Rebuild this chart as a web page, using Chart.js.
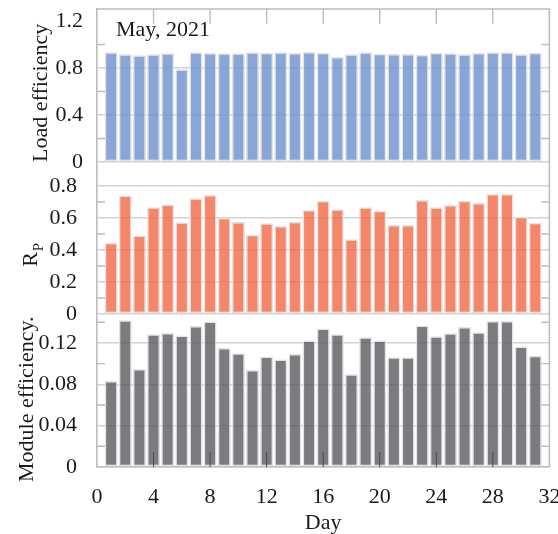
<!DOCTYPE html>
<html>
<head>
<meta charset="utf-8">
<script src="https://cdn.jsdelivr.net/npm/chart.js@4.4.0/dist/chart.umd.min.js"></script>
<style>html,body{margin:0;padding:0;background:#fff;}canvas{display:block;}</style>
</head>
<body>
<canvas id="c" width="558" height="534"></canvas>
<script>
const days = [1,2,3,4,5,6,7,8,9,10,11,12,13,14,15,16,17,18,19,20,21,22,23,24,25,26,27,28,29,30,31];
const loadEfficiency = [0.933,0.916,0.908,0.916,0.925,0.790,0.933,0.928,0.925,0.925,0.933,0.930,0.933,0.928,0.936,0.930,0.894,0.916,0.933,0.922,0.919,0.919,0.913,0.930,0.925,0.916,0.928,0.933,0.933,0.916,0.930];
const rpValues = [0.446,0.740,0.490,0.667,0.685,0.573,0.723,0.744,0.602,0.575,0.496,0.567,0.550,0.577,0.650,0.708,0.654,0.467,0.667,0.646,0.556,0.556,0.712,0.667,0.681,0.708,0.694,0.750,0.750,0.608,0.571];
const moduleEfficiency = [0.0833,0.142,0.0949,0.1284,0.1297,0.1271,0.1365,0.1407,0.1152,0.110,0.0939,0.107,0.104,0.1094,0.1223,0.1339,0.1284,0.0897,0.1255,0.1223,0.1061,0.1061,0.1368,0.1265,0.1294,0.1355,0.1304,0.1413,0.1413,0.1165,0.1075];
const xTicks = [0,4,8,12,16,20,24,28,32];
const loadTicks = [0,0.4,0.8,1.2];
const rpTicks = [0,0.2,0.4,0.6,0.8];
const moduleTicks = [0,0.04,0.08,0.12];
const loadMinor = [0.2,0.6,1.0];
const rpMinor = [0.1,0.3,0.5,0.7];
const moduleMinor = [0.02,0.06,0.10,0.14];
const xInnerTicks = [4,8,12,16,20,24,28];

const FONT = "'Liberation Serif','Times New Roman',serif";
const AXIS = '#bdbdbd';
const GRID = '#d2d2d2';
const TXT = '#1a1a1a';

function yScale(tickVals, min, max, weight, stackWeight, pad, noGrid) {
  return {
    type: 'linear', position: 'left', stack: 'panels', stackWeight: stackWeight, weight: weight,
    min: min, max: max,
    afterBuildTicks: s => { s.ticks = tickVals.map(v => ({value: v})); },
    afterFit: s => { s.width = 97; s.paddingTop = 0; s.paddingBottom = 0; },
    ticks: { padding: pad, color: TXT, font: {family: FONT, size: 22}, autoSkip: false, callback: v => String(v) },
    grid: { drawTicks: false, lineWidth: 1.4,
      color: ctx => (noGrid.indexOf(ctx.tick && ctx.tick.value) >= 0 ? 'rgba(0,0,0,0)' : GRID) },
    border: { display: true, color: AXIS, width: 1.6 }
  };
}

const decor = {
  id: 'decor',
  beforeDraw(chart) {
    const c = chart.ctx;
    c.save(); c.fillStyle = '#fff'; c.fillRect(0, 0, chart.width, chart.height); c.restore();
  },
  afterDatasetsDraw(chart) {
    const c = chart.ctx, a = chart.chartArea, s = chart.scales;
    c.save();
    c.strokeStyle = AXIS; c.lineWidth = 1.6;
    c.beginPath();
    c.moveTo(a.left, a.top); c.lineTo(a.right, a.top); c.lineTo(a.right, a.bottom);
    c.stroke();
    const minor = [[s.yLoad, loadMinor], [s.yRp, rpMinor], [s.yMod, moduleMinor]];
    c.lineWidth = 1.4;
    for (const [sc, vals] of minor) {
      for (const v of vals) {
        const y = sc.getPixelForValue(v);
        c.beginPath();
        c.moveTo(a.left, y); c.lineTo(a.left + 8, y);
        c.moveTo(a.right, y); c.lineTo(a.right - 8, y);
        c.stroke();
      }
    }
    for (const v of xInnerTicks) {
      const x = s.x.getPixelForValue(v);
      c.strokeStyle = AXIS; c.lineWidth = 1.4;
      c.beginPath(); c.moveTo(x, a.top); c.lineTo(x, a.top + 15); c.stroke();
      c.strokeStyle = '#4a4a4a'; c.lineWidth = 1;
      c.beginPath(); c.moveTo(x, a.bottom); c.lineTo(x, a.bottom - 15); c.stroke();
    }
    c.restore();
  },
  afterDraw(chart) {
    const c = chart.ctx, s = chart.scales, a = chart.chartArea;
    c.save();
    c.fillStyle = TXT;
    c.textBaseline = 'alphabetic';
    c.font = '22px ' + FONT;
    c.textAlign = 'left';
    c.fillText('May, 2021', a.left + 19, a.top + 27);
    const rot = (txt, x, y, size) => {
      c.save(); c.translate(x, y); c.rotate(-Math.PI / 2);
      c.font = size + 'px ' + FONT; c.textAlign = 'left'; c.fillText(txt, 0, 0); c.restore();
    };
    rot('Load efficiency', 47, s.yLoad.getPixelForValue(0), 22);
    const r0 = s.yRp.getPixelForValue(0.295);
    rot('R', 37, r0, 22);
    c.font = '22px ' + FONT;
    const rw = c.measureText('R').width;
    rot('P', 43, r0 - rw - 1, 15);
    rot('Module efficiency.', 33, s.yMod.getPixelForValue(0) + 15, 22);
    c.restore();
  }
};

const barCommon = { grouped: false, barPercentage: 0.92, categoryPercentage: 1.0, borderWidth: 1.5, borderColor: '#e3e3e3', borderSkipped: false };

new Chart(document.getElementById('c'), {
  type: 'bar',
  data: {
    datasets: [
      Object.assign({ label: 'Load efficiency', yAxisID: 'yLoad', backgroundColor: 'rgba(109,144,204,0.8)',
        data: days.map((d, i) => ({x: d, y: loadEfficiency[i]})) }, barCommon),
      Object.assign({ label: 'Rp', yAxisID: 'yRp', backgroundColor: 'rgba(241,105,69,0.8)',
        data: days.map((d, i) => ({x: d, y: rpValues[i]})) }, barCommon),
      Object.assign({ label: 'Module efficiency', yAxisID: 'yMod', backgroundColor: 'rgba(91,91,96,0.8)',
        data: days.map((d, i) => ({x: d, y: moduleEfficiency[i]})) }, barCommon)
    ]
  },
  options: {
    responsive: false, animation: false, devicePixelRatio: 1,
    layout: { padding: { top: 9, right: 8.6, left: 0, bottom: 0 } },
    plugins: { legend: { display: false }, tooltip: { enabled: false } },
    scales: {
      x: {
        type: 'linear', position: 'bottom', min: 0, max: 32, offset: false,
        afterBuildTicks: s => { s.ticks = xTicks.map(v => ({value: v})); },
        afterFit: s => { s.height = 67; s.paddingLeft = 0; s.paddingRight = 0; },
        ticks: { padding: 17, color: TXT, font: {family: FONT, size: 22}, maxRotation: 0, autoSkip: false },
        grid: { display: false, drawTicks: false },
        border: { display: true, color: AXIS, width: 1.6 },
        title: { display: true, text: 'Day', color: TXT, font: {family: FONT, size: 22, lineHeight: 1}, padding: 0 }
      },
      yLoad: yScale(loadTicks, -0.085, 1.302, 3, 163, 14, [1.2]),
      yRp: yScale(rpTicks, 0, 0.8875, 2, 142, 20, []),
      yMod: yScale(moduleTicks, 0, 0.148, 1, 153, 20, [])
    }
  },
  plugins: [decor]
});
</script>
</body>
</html>
